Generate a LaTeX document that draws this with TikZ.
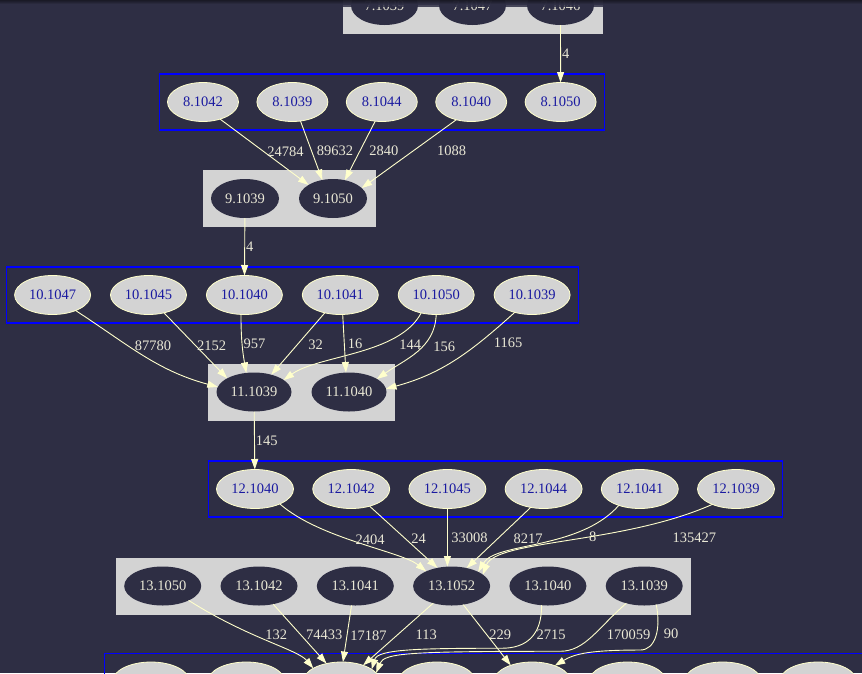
\documentclass[tikz,border=0pt]{standalone}
\usepackage{fontspec}
\setmainfont{Liberation Serif}
\usepackage{tikz}
\usetikzlibrary{arrows.meta, positioning, shapes.geometric, fit}

\definecolor{bgcol}{RGB}{46,46,68}
\definecolor{boxgrey}{RGB}{211,211,211}
\definecolor{edgecol}{RGB}{255,255,204}
\definecolor{lblcol}{RGB}{234,232,214}
\definecolor{nodeblue}{RGB}{26,26,160}
\definecolor{clusterblue}{RGB}{0,0,255}

\pgfdeclarelayer{back}
\pgfdeclarelayer{clusters}
\pgfsetlayers{back,clusters,main}

\begin{document}
\begin{tikzpicture}[
  x=1pt, y=1pt,
  font=\fontsize{14.5}{17}\selectfont,
  lnode/.style={ellipse, draw=edgecol, line width=0.8pt, fill=boxgrey, text=nodeblue, minimum width=#1, minimum height=39pt, inner sep=0pt, outer sep=0pt},
  dnode/.style={ellipse, fill=bgcol, text=lblcol, minimum width=#1, minimum height=39pt, inner sep=0pt, outer sep=0pt},
  greybox/.style={rectangle, fill=boxgrey, inner xsep=8.5pt, inner ysep=9pt},
  bluebox/.style={rectangle, draw=clusterblue, line width=1.2pt, inner xsep=8pt, inner ysep=8.5pt},
  link/.style={draw=edgecol, line width=0.9pt, -{Triangle[length=10.5pt, width=7pt]}},
  lbl/.style={text=lblcol, inner sep=1pt}
]
\useasboundingbox (0,0) rectangle (862,-673);
\begin{pgfonlayer}{back}
  \fill[bgcol] (0,0) rectangle (862,-673);
\end{pgfonlayer}

\node[dnode=67pt] (n7-1039) at (384.5,-5.5) {7.1039};
\node[dnode=67pt, right=21pt of n7-1039] (n7-1047) {7.1047};
\node[dnode=67pt, right=21pt of n7-1047] (n7-1046) {7.1046};

\node[lnode=71pt] (n8-1042) at (203,-102) {8.1042};
\node[lnode=71pt, right=18.4pt of n8-1042] (n8-1039) {8.1039};
\node[lnode=71pt, right=18.4pt of n8-1039] (n8-1044) {8.1044};
\node[lnode=71pt, right=18.4pt of n8-1044] (n8-1040) {8.1040};
\node[lnode=71pt, right=18.4pt of n8-1040] (n8-1050) {8.1050};

\node[dnode=68pt] (n9-1039) at (245,-198.5) {9.1039};
\node[dnode=68pt, right=20pt of n9-1039] (n9-1050) {9.1050};

\node[lnode=76pt] (n10-1047) at (52.6,-295) {10.1047};
\node[lnode=76pt, right=19.9pt of n10-1047] (n10-1045) {10.1045};
\node[lnode=76pt, right=19.9pt of n10-1045] (n10-1040) {10.1040};
\node[lnode=76pt, right=19.9pt of n10-1040] (n10-1041) {10.1041};
\node[lnode=76pt, right=19.9pt of n10-1041] (n10-1050) {10.1050};
\node[lnode=76pt, right=19.9pt of n10-1050] (n10-1039) {10.1039};

\node[dnode=75pt] (n11-1039) at (254,-392) {11.1039};
\node[dnode=75pt, right=20pt of n11-1039] (n11-1040) {11.1040};

\node[lnode=77pt] (n12-1040) at (255,-489) {12.1040};
\node[lnode=77pt, right=19.2pt of n12-1040] (n12-1042) {12.1042};
\node[lnode=77pt, right=19.2pt of n12-1042] (n12-1045) {12.1045};
\node[lnode=77pt, right=19.2pt of n12-1045] (n12-1044) {12.1044};
\node[lnode=77pt, right=19.2pt of n12-1044] (n12-1041) {12.1041};
\node[lnode=77pt, right=19.2pt of n12-1041] (n12-1039) {12.1039};

\node[dnode=77pt] (n13-1050) at (162.7,-586) {13.1050};
\node[dnode=77pt, right=19.3pt of n13-1050] (n13-1042) {13.1042};
\node[dnode=77pt, right=19.3pt of n13-1042] (n13-1041) {13.1041};
\node[dnode=77pt, right=19.3pt of n13-1041] (n13-1052) {13.1052};
\node[dnode=77pt, right=19.3pt of n13-1052] (n13-1040) {13.1040};
\node[dnode=77pt, right=19.3pt of n13-1040] (n13-1039) {13.1039};

\node[lnode=77pt] (n14a) at (151,-681.5) {};
\node[lnode=77pt, right=18.3pt of n14a] (n14b) {};
\node[lnode=77pt, right=18.3pt of n14b] (n14c) {};
\node[lnode=77pt, right=18.3pt of n14c] (n14d) {};
\node[lnode=77pt, right=18.3pt of n14d] (n14e) {};
\node[lnode=77pt, right=18.3pt of n14e] (n14f) {};
\node[lnode=77pt, right=18.3pt of n14f] (n14g) {};
\node[lnode=77pt, right=18.3pt of n14g] (n14h) {};

\begin{pgfonlayer}{clusters}
  \node[greybox, fit=(n7-1039)(n7-1046)] (c7) {};
  \node[bluebox, fit=(n8-1042)(n8-1050)] (c8) {};
  \node[greybox, fit=(n9-1039)(n9-1050)] (c9) {};
  \node[bluebox, fit=(n10-1047)(n10-1039)] (c10) {};
  \node[greybox, fit=(n11-1039)(n11-1040)] (c11) {};
  \node[bluebox, fit=(n12-1040)(n12-1039)] (c12) {};
  \node[greybox, fit=(n13-1050)(n13-1039)] (c13) {};
  \node[bluebox, fit=(n14a)(n14h)] (c14) {};
\end{pgfonlayer}

\draw[link] (n7-1046) -- node[lbl, right] {4} (n8-1050);

\draw[link] (n8-1042.-45) -- node[lbl, right=1.5pt] {24784} (n9-1050.151);
\draw[link] (n8-1039.-67) -- node[lbl, right=4pt] {89632} (n9-1050.120);
\draw[link] (n8-1044.-109) -- node[lbl, right=8pt] {2840} (n9-1050.57);
\draw[link] (n8-1040.-130) -- node[lbl, pos=.45, right=22pt] {1088} (n9-1050.20);

\draw[link] (n9-1039) -- node[lbl, right] {4} (n10-1040);

\draw[link] (n10-1047.-34) to[out=-33, in=165] node[lbl, pos=.38, right=5pt] {87780} (n11-1039.172);
\draw[link] (n10-1045.-49) -- node[lbl, right] {2152} (n11-1039.153);
\draw[link] (n10-1040.-100) to[out=-90, in=100] node[lbl, right] {957} (n11-1039.112);
\draw[link] (n10-1041.-131) -- node[lbl, pos=.52, right=10pt] {32} (n11-1039.45);
\draw[link] (n10-1041.-83) -- node[lbl, right=2pt] {16} (n11-1040.99);
\draw[link] (n10-1050.-130) .. controls +(-22,-42) and +(35,25) .. (n11-1039.22) node[lbl, pos=.35, right=17pt] {144};
\draw[link] (n10-1050.-90) to[out=-92, in=35] node[lbl, pos=.4, right=9pt] {156} (n11-1040.25);
\draw[link] (n10-1039.-135) to[out=-138, in=15] node[lbl, pos=.3, right=14pt] {1165} (n11-1040.5);

\draw[link] (n11-1039) -- node[lbl, right] {145} (n12-1040);

\draw[link] (n12-1040.-31) .. controls +(40,-35) and +(-25,20) .. (n13-1052.150) node[lbl, pos=.45, right=4pt] {2404};
\draw[link] (n12-1042.-43) -- node[lbl, pos=.52, right=5pt] {24} (n13-1052.128);
\draw[link] (n12-1045) -- node[lbl, right=2.6pt] {33008} (n12-1045 |- n13-1052.north);
\draw[link] (n12-1044.-125) -- node[lbl, pos=.51, right=14pt] {8217} (n13-1052.50);
\draw[link] (n12-1041.-142) .. controls +(-40,-45) and +(18,30) .. (n13-1052.28) node[lbl, pos=.35, right=22pt] {8};
\draw[link] (n12-1039.-147) .. controls +(-90,-40) and +(13,35) .. (n13-1052.20) node[lbl, pos=.2, right=16pt, yshift=-14pt] {135427};

\draw[link] (n13-1050.-29) .. controls +(60,-38) and +(-16,19) .. (n14c.155) node[lbl, pos=.4, right=10pt] {132};
\draw[link] (n13-1042.-52) -- node[lbl, pos=.52, right=3.7pt] {74433} (n14c.130);
\draw[link] (n13-1041.-101) -- node[lbl, pos=.53, right=2pt] {17187} (n14c.86);
\draw[link] (n13-1052.-137) -- node[lbl, pos=.515, right=17pt] {113} (n14c.37);
\draw[link] (n13-1052.-58) -- node[lbl, pos=.5, right=1pt] {229} (n14e.143);
\draw[link] (n13-1040.-108) .. controls +(0,-30) and +(25,0) .. ++(-40,-43) node[lbl, pos=.42, right=1pt] {2715}
  .. controls +(-85,0) and +(6,20) .. (n14c.22);
\draw[link] (n13-1039.-136) .. controls +(-28,-24) and +(25,0) .. ++(-66,-48) node[lbl, pos=.48, right=12pt] {170059}
  .. controls +(-150,0) and +(8,20) .. (n14c.14);
\draw[link] (n13-1039.-57) .. controls +(5,-25) and +(15,0) .. ++(-16,-45.5) node[lbl, pos=.45, right=6pt] {90}
  .. controls +(-50,0) and +(20,12) .. (n14e.35);

\fill[bgcol, opacity=.85] (0,0) rectangle (862,-7);
\shade[top color=black!55!bgcol, bottom color=bgcol, opacity=.8] (0,0) rectangle (862,-4);
\end{tikzpicture}
\end{document}
